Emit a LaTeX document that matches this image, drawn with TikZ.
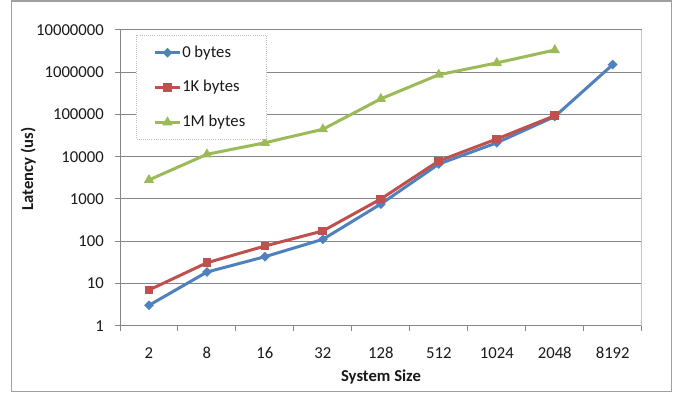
\documentclass[tikz,border=0pt]{standalone}
\usepackage{fontspec}
\setmainfont{Carlito}
\usepackage{tikz}
\usetikzlibrary{shapes.geometric,calc}

\definecolor{zerocol}{RGB}{79,129,189}
\definecolor{onekcol}{RGB}{192,80,77}
\definecolor{onemcol}{RGB}{155,187,89}
\definecolor{gridcol}{RGB}{134,134,134}
\definecolor{framecol}{RGB}{160,160,160}

\tikzset{
  gridline/.style={color=gridcol, line width=0.75},
  zeroline/.style={color=zerocol, line width=2.25, line join=round},
  onekline/.style={color=onekcol, line width=2.25, line join=round},
  onemline/.style={color=onemcol, line width=2.25, line join=round},
  zeromark/.style={diamond, fill=zerocol, inner sep=0pt, minimum size=7.5pt},
  onekmark/.style={rectangle, fill=onekcol, inner sep=0pt, minimum size=6.6pt},
  onemmark/.style={regular polygon, regular polygon sides=3, fill=onemcol, inner sep=0pt, minimum size=9pt},
  ticklab/.style={inner sep=0pt, font=\fontsize{12.5}{15}\selectfont, text=black!90},
  axtitle/.style={inner sep=0pt, font=\fontsize{12.5}{15}\selectfont\bfseries, text=black!90}
}

\begin{document}
\begin{tikzpicture}[x=0.75pt,y=0.75pt,yscale=-1,xscale=1]
    \useasboundingbox (0,0) rectangle (678,394);
    % chart frame
    \draw [color=framecol, line width=0.9] (11.5,1) rectangle (671.5,391.7) ;
    % horizontal grid, y ticks and labels
    \foreach \k/\lab in {0/1,1/10,2/100,3/1000,4/10000,5/100000,6/1000000,7/10000000} {
      \draw [gridline] (115,{325.7-42.25*\k}) -- (641.7,{325.7-42.25*\k}) ;
      \node [ticklab, anchor=east] (ylab\k) at (104,{325.7-42.25*\k}) {\lab};
    }
    % plot area sides
    \draw [color=framecol!60, line width=0.6] (641.7,30) -- (641.7,330.7) ;
    \draw [gridline] (120,30) -- (120,325.7) ;
    % x ticks and labels
    \foreach \k in {0,...,9}
      \draw [gridline] ({120+57.97*\k},325.7) -- ({120+57.97*\k},330.7) ;
    \foreach \i/\lab in {1/2,2/8,3/16,4/32,5/128,6/512,7/1024,8/2048,9/8192}
      \node [ticklab] (xlab\i) at ({91+57.97*\i},353.3) {\lab};
    % axis titles
    \node [axtitle] (xtitle) at (381,376.7) {System Size};
    \node [axtitle, rotate=90] (ytitle) at (28.3,169) {Latency (us)};
    % data points (log10 of latency)
    \foreach \i/\v in {1/0.483,2/1.27,3/1.633,4/2.045,5/2.88,6/3.827,7/4.33,8/4.95,9/6.18}
      \coordinate (z\i) at ({91+57.97*\i},{325.7-42.25*\v});
    \foreach \i/\v in {1/0.845,2/1.49,3/1.886,4/2.243,5/3.0,6/3.9,7/4.42,8/4.97}
      \coordinate (k\i) at ({91+57.97*\i},{325.7-42.25*\v});
    \foreach \i/\v in {1/3.45,2/4.057,3/4.33,4/4.65,5/5.37,6/5.94,7/6.22,8/6.525}
      \coordinate (m\i) at ({91+57.97*\i},{325.7-42.25*\v});
    % series
    \draw [zeroline] (z1) \foreach \i in {2,...,9} { -- (z\i) } ;
    \foreach \i in {1,...,9} \node [zeromark] at (z\i) {};
    \draw [onekline] (k1) \foreach \i in {2,...,8} { -- (k\i) } ;
    \foreach \i in {1,...,8} \node [onekmark] at (k\i) {};
    \draw [onemline] (m1) \foreach \i in {2,...,8} { -- (m\i) } ;
    \foreach \i in {1,...,8} \node [onemmark] at (m\i) {};
    % legend
    \draw [fill=white, draw=framecol!70, line width=0.6, densely dotted] (136,35) rectangle (266.7,139) ;
    \coordinate (la0) at (155,52.7) ; \coordinate (lb0) at (180,52.7) ;
    \coordinate (la1) at (155,87.3) ; \coordinate (lb1) at (180,87.3) ;
    \coordinate (la2) at (155,122.3) ; \coordinate (lb2) at (180,122.3) ;
    \draw [zeroline] (la0) -- (lb0) ;
    \node [zeromark] at ($(la0)!0.5!(lb0)$) {};
    \draw [onekline] (la1) -- (lb1) ;
    \node [onekmark] at ($(la1)!0.5!(lb1)$) {};
    \draw [onemline] (la2) -- (lb2) ;
    \node [onemmark] at ($(la2)!0.5!(lb2)$) {};
    \node [ticklab, anchor=west] (leg0) at (182,52.7) {0 bytes};
    \node [ticklab, anchor=west] (leg1) at (182,87.3) {1K bytes};
    \node [ticklab, anchor=west] (leg2) at (182,122.3) {1M bytes};
\end{tikzpicture}
\end{document}
